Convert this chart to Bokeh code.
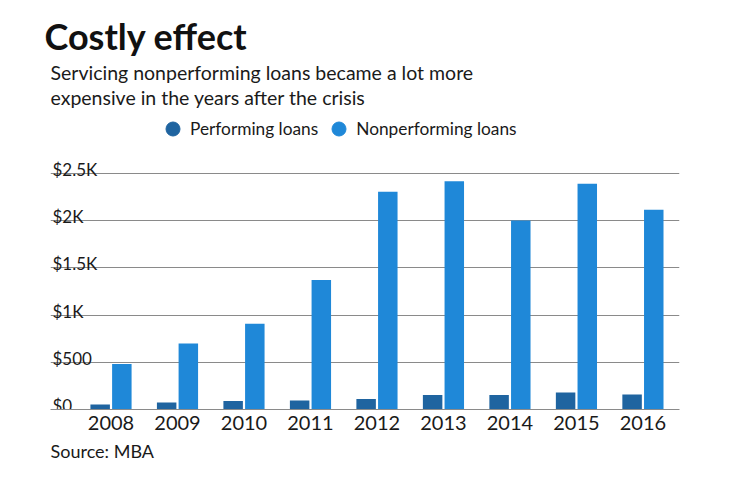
from bokeh.plotting import figure
from bokeh.models import (Range1d, FixedTicker, Title, Legend, LegendItem,
                          ColumnDataSource)
from bokeh.transform import dodge
from bokeh.core.properties import value
from bokeh.embed import file_html
from bokeh.resources import INLINE

# ---- data ----
years = ["2008", "2009", "2010", "2011", "2012", "2013", "2014", "2015", "2016"]
performing = [53, 74, 89, 95, 110, 153, 153, 180, 159]
nonperforming = [481, 699, 908, 1371, 2306, 2419, 2002, 2391, 2115]
y_ticks = [0, 500, 1000, 1500, 2000, 2500]
y_tick_labels = ["$0", "$500", "$1K", "$1.5K", "$2K", "$2.5K"]

FONT = "Lato"
TEXT = "#1a1a1a"
DARK = "#1f64a0"
LIGHT = "#1f88d8"
GRID = "#8a8a8a"

idx = list(range(len(years)))
src = ColumnDataSource(dict(x=idx, perf=performing, nonperf=nonperforming))

p = figure(width=724, height=466, output_backend="svg", toolbar_location=None,
           x_range=Range1d(-0.91, 8.55), y_range=Range1d(0, 3146),
           min_border_left=50, min_border_right=45, min_border_top=112,
           min_border_bottom=57, title=None)
p.outline_line_color = None
p.background_fill_color = "white"
p.border_fill_color = "white"

r1 = p.vbar(x=dodge("x", -0.163, range=p.x_range), top="perf", width=0.293,
            source=src, fill_color=DARK, line_color=None)
r2 = p.vbar(x=dodge("x", 0.163, range=p.x_range), top="nonperf", width=0.293,
            source=src, fill_color=LIGHT, line_color=None)

# grid
p.xgrid.visible = False
p.ygrid.ticker = FixedTicker(ticks=y_ticks)
p.ygrid.grid_line_color = GRID
p.ygrid.grid_line_width = 1
p.ygrid.level = "underlay"

# y axis hidden; labels drawn above grid lines
p.yaxis.visible = False
lab_src = ColumnDataSource(dict(y=y_ticks, t=y_tick_labels,
                                x=[p.x_range.start] * len(y_ticks)))
p.text(x="x", y="y", text="t", source=lab_src, text_align="left",
       text_baseline="alphabetic", x_offset=2, y_offset=-4,
       text_font=value(FONT), text_font_size="17px", text_color=TEXT)

# x axis
p.xaxis.ticker = FixedTicker(ticks=idx)
p.xaxis.major_label_overrides = {i: y for i, y in zip(idx, years)}
p.xaxis.axis_line_color = GRID
p.xaxis.major_tick_line_color = None
p.xaxis.minor_tick_line_color = None
p.xaxis.major_label_text_font = FONT
p.xaxis.major_label_text_font_size = "20px"
p.xaxis.major_label_text_color = TEXT
p.xaxis.major_label_standoff = 0

# legend inside the frame, above the top grid line
d1 = p.scatter(x=[0], y=[-100], size=12, color=DARK)
d2 = p.scatter(x=[0], y=[-100], size=12, color=LIGHT)
legend = Legend(items=[
    LegendItem(label="Performing loans", renderers=[d1]),
    LegendItem(label="Nonperforming loans", renderers=[d2]),
], orientation="horizontal", location=(105, 263), border_line_color=None,
   background_fill_alpha=0, label_text_font=FONT, label_text_font_size="17.3px",
   label_text_color=TEXT, glyph_width=35, glyph_height=35, spacing=3,
   padding=0, margin=0, label_standoff=0)
p.add_layout(legend)

sub = Title(text="Servicing nonperforming loans became a lot more\nexpensive in the years after the crisis",
            text_font=FONT, text_font_size="19.5px", text_font_style="normal",
            text_color=TEXT, text_line_height=1.13, align="left", offset=0,
            standoff=6)
main = Title(text="Costly effect", text_font=FONT, text_font_size="36px",
             text_font_style="bold", text_color="#111111", align="left",
             offset=-6, standoff=-4)
p.add_layout(sub, "above")
p.add_layout(main, "above")

src_t = Title(text="Source: MBA", text_font=FONT, text_font_size="18px",
              text_font_style="normal", text_color=TEXT, align="left",
              offset=0, standoff=10)
p.add_layout(src_t, "below")

open("out.html", "w").write(file_html(p, INLINE))
